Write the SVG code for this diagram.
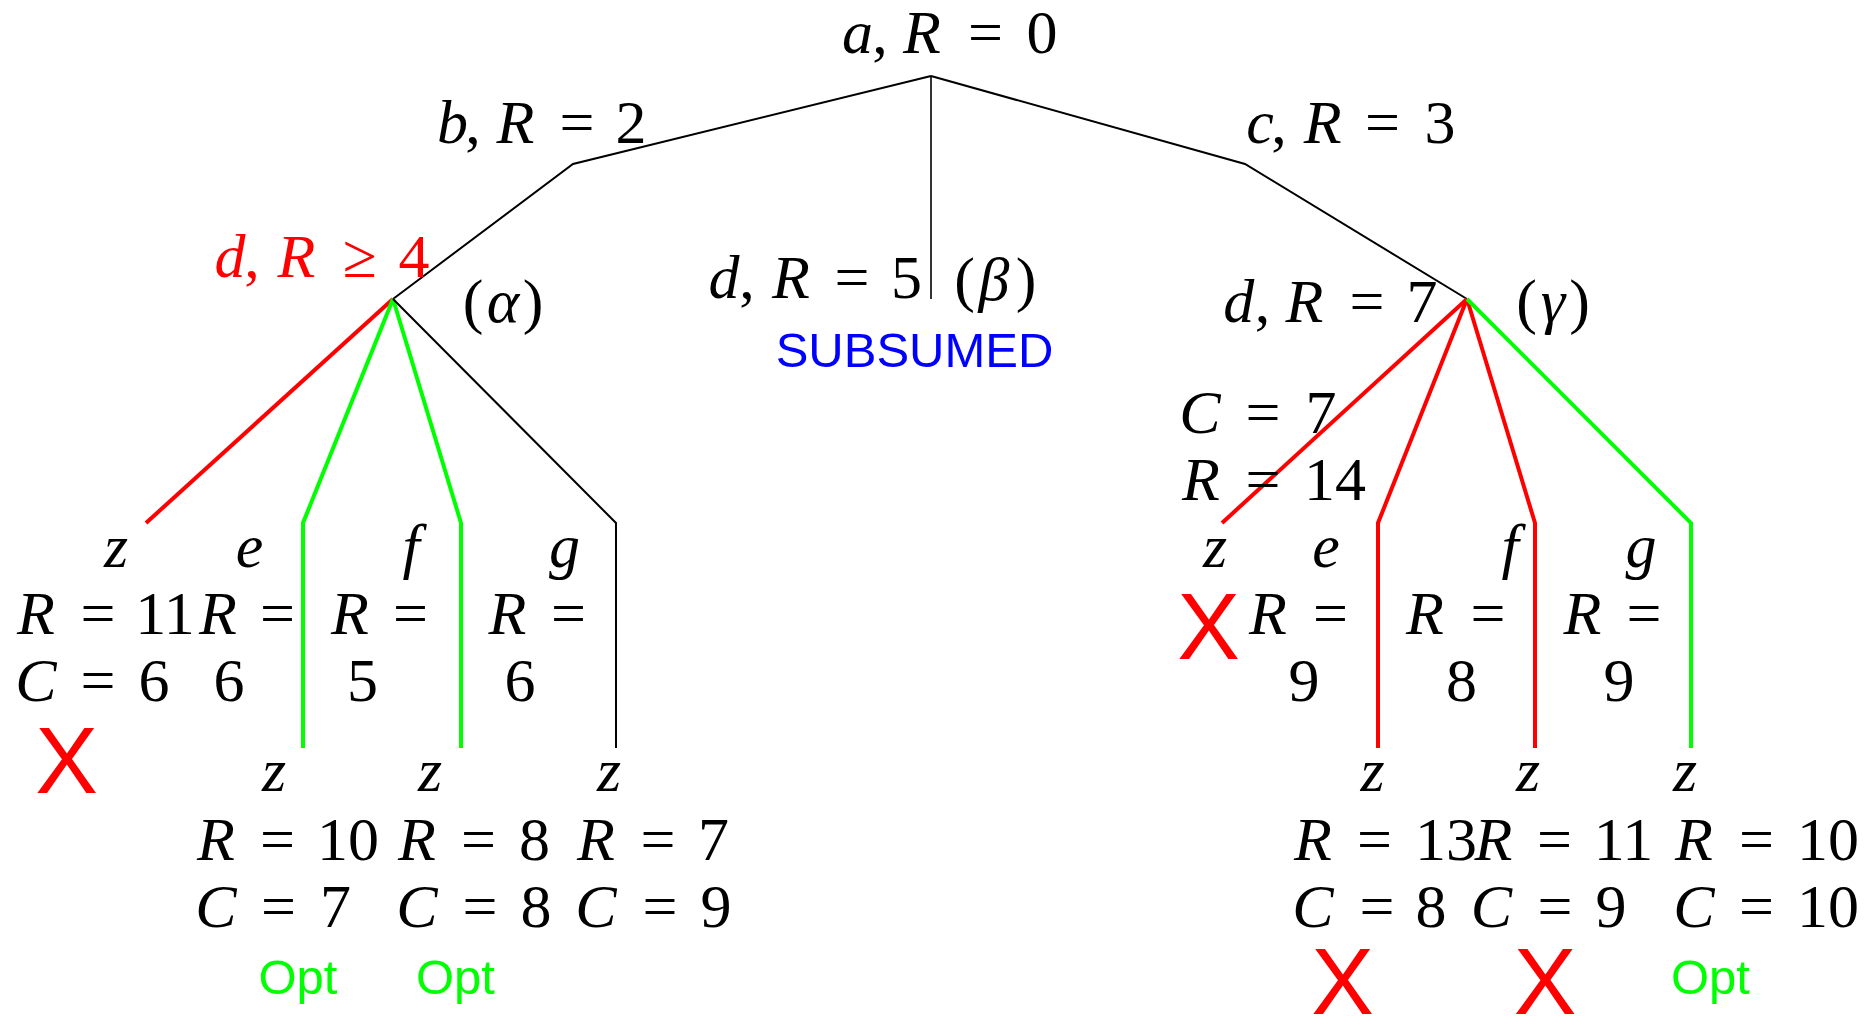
<svg xmlns="http://www.w3.org/2000/svg" width="1876" height="1018" viewBox="0 0 1876 1018">
<style>
.m{font-family:"Liberation Serif","Times New Roman",serif;font-size:62px;fill:#000;text-anchor:middle}
.i{font-style:italic}
.rd{fill:#f00}
.s{font-family:"Liberation Sans",Arial,sans-serif;text-anchor:middle}
.x{font-size:94px;fill:#f00}
.opt{font-size:49px;fill:#0f0}
.sub{font-size:49px;fill:#00f}
.k{stroke:#000;stroke-width:2;fill:none;stroke-linejoin:miter}
.kt{stroke:#000;stroke-width:1.6;fill:none}
.rl{stroke:#f00;stroke-width:4;fill:none}
.gl{stroke:#0f0;stroke-width:4;fill:none}
</style>
<rect width="1876" height="1018" fill="#fff"/>
<g id="connectors">
<polyline class="k" points="931,76 573,164 393,299"/>
<line class="kt" x1="931" y1="76" x2="931" y2="299"/>
<polyline class="k" points="931,76 1245,164 1467,299"/>
<line class="rl" x1="393" y1="299" x2="146" y2="523"/>
<polyline class="gl" points="393,299 303,523 303,748"/>
<polyline class="gl" points="393,299 461,523 461,748"/>
<polyline class="k" points="393,299 616,523 616,748"/>
<line class="rl" x1="1467" y1="299" x2="1222" y2="523"/>
<polyline class="rl" points="1467,299 1378,523 1378,748"/>
<polyline class="rl" points="1467,299 1535,523 1535,748"/>
<polyline class="gl" points="1467,299 1691,523 1691,748"/>
</g>
<g id="node-a">
<text class="m" y="53"><tspan x="857.5" class="i">a</tspan><tspan x="880">,</tspan><tspan x="922" class="i">R</tspan><tspan x="985.6">=</tspan><tspan x="1042">0</tspan></text>
</g>
<g id="node-b">
<text class="m" y="143"><tspan x="452.5" class="i">b</tspan><tspan x="473">,</tspan><tspan x="515.5" class="i">R</tspan><tspan x="577">=</tspan><tspan x="631">2</tspan></text>
</g>
<g id="node-c">
<text class="m" y="143"><tspan x="1260" class="i">c</tspan><tspan x="1279">,</tspan><tspan x="1322.7" class="i">R</tspan><tspan x="1382.6">=</tspan><tspan x="1440">3</tspan></text>
</g>
<g id="node-d-alpha">
<text class="m rd" y="277"><tspan x="230" class="i">d</tspan><tspan x="252">,</tspan><tspan x="296.5" class="i">R</tspan><tspan x="359.5">≥</tspan><tspan x="414">4</tspan></text>
<text class="m" y="322"><tspan x="473">(</tspan><tspan x="503" class="i">α</tspan><tspan x="533">)</tspan></text>
</g>
<g id="node-d-beta">
<text class="m" y="298"><tspan x="724" class="i">d</tspan><tspan x="747">,</tspan><tspan x="791" class="i">R</tspan><tspan x="852">=</tspan><tspan x="906.5">5</tspan></text>
<text class="m" y="300"><tspan x="964.6">(</tspan><tspan x="994" class="i">β</tspan><tspan x="1026">)</tspan></text>
<text class="s sub" x="914.5" y="367">SUBSUMED</text>
</g>
<g id="node-d-gamma">
<text class="m" y="322"><tspan x="1238.7" class="i">d</tspan><tspan x="1262.6">,</tspan><tspan x="1304.5" class="i">R</tspan><tspan x="1367">=</tspan><tspan x="1422">7</tspan></text>
<text class="m" y="322"><tspan x="1526.5">(</tspan><tspan x="1553" class="i">γ</tspan><tspan x="1579.5">)</tspan></text>
</g>
<g id="leaf-alpha-z">
<text class="m i" x="116" y="567">z</text>
<text class="m" y="634"><tspan x="36" class="i">R</tspan><tspan x="98">=</tspan><tspan x="165">11</tspan></text>
<text class="m" y="701"><tspan x="36" class="i">C</tspan><tspan x="98">=</tspan><tspan x="154">6</tspan></text>
<text class="s x" x="66.5" y="793">X</text>
</g>
<g id="node-alpha-e">
<text class="m i" x="249.5" y="567">e</text>
<text class="m" y="634"><tspan x="218" class="i">R</tspan><tspan x="277.5">=</tspan></text>
<text class="m" x="229" y="701">6</text>
</g>
<g id="node-alpha-f">
<text class="m i" x="411" y="567">f</text>
<text class="m" y="634"><tspan x="350" class="i">R</tspan><tspan x="410.5">=</tspan></text>
<text class="m" x="362.5" y="701">5</text>
</g>
<g id="node-alpha-g">
<text class="m i" x="564.5" y="567">g</text>
<text class="m" y="634"><tspan x="507.5" class="i">R</tspan><tspan x="568.5">=</tspan></text>
<text class="m" x="520" y="701">6</text>
</g>
<g id="leaf-alpha-ez">
<text class="m i" x="274" y="791">z</text>
<text class="m" y="860"><tspan x="216" class="i">R</tspan><tspan x="277.5">=</tspan><tspan x="348">10</tspan></text>
<text class="m" y="927"><tspan x="216" class="i">C</tspan><tspan x="278.5">=</tspan><tspan x="335.5">7</tspan></text>
<text class="s opt" x="298" y="994">Opt</text>
</g>
<g id="leaf-alpha-fz">
<text class="m i" x="430" y="791">z</text>
<text class="m" y="860"><tspan x="417" class="i">R</tspan><tspan x="478.5">=</tspan><tspan x="534.5">8</tspan></text>
<text class="m" y="927"><tspan x="417" class="i">C</tspan><tspan x="480">=</tspan><tspan x="536">8</tspan></text>
<text class="s opt" x="455.5" y="994">Opt</text>
</g>
<g id="leaf-alpha-gz">
<text class="m i" x="609" y="791">z</text>
<text class="m" y="860"><tspan x="596" class="i">R</tspan><tspan x="658">=</tspan><tspan x="713.5">7</tspan></text>
<text class="m" y="927"><tspan x="596" class="i">C</tspan><tspan x="660">=</tspan><tspan x="716">9</tspan></text>
</g>
<g id="leaf-gamma-z">
<text class="m" y="433"><tspan x="1200" class="i">C</tspan><tspan x="1263">=</tspan><tspan x="1321">7</tspan></text>
<text class="m" y="500"><tspan x="1201" class="i">R</tspan><tspan x="1263">=</tspan><tspan x="1335">14</tspan></text>
<text class="m i" x="1215" y="567">z</text>
<text class="s x" x="1208.5" y="659">X</text>
</g>
<g id="node-gamma-e">
<text class="m i" x="1326" y="567">e</text>
<text class="m" y="634"><tspan x="1268" class="i">R</tspan><tspan x="1330.5">=</tspan></text>
<text class="m" x="1304" y="701">9</text>
</g>
<g id="node-gamma-f">
<text class="m i" x="1510" y="567">f</text>
<text class="m" y="634"><tspan x="1425" class="i">R</tspan><tspan x="1488">=</tspan></text>
<text class="m" x="1461.5" y="701">8</text>
</g>
<g id="node-gamma-g">
<text class="m i" x="1641" y="567">g</text>
<text class="m" y="634"><tspan x="1582.5" class="i">R</tspan><tspan x="1644">=</tspan></text>
<text class="m" x="1619" y="701">9</text>
</g>
<g id="leaf-gamma-ez">
<text class="m i" x="1372.5" y="791">z</text>
<text class="m" y="860"><tspan x="1313" class="i">R</tspan><tspan x="1374.5">=</tspan><tspan x="1446">13</tspan></text>
<text class="m" y="927"><tspan x="1313" class="i">C</tspan><tspan x="1377">=</tspan><tspan x="1431">8</tspan></text>
<text class="s x" x="1342.5" y="1014">X</text>
</g>
<g id="leaf-gamma-fz">
<text class="m i" x="1528" y="791">z</text>
<text class="m" y="860"><tspan x="1493.5" class="i">R</tspan><tspan x="1554.5">=</tspan><tspan x="1623.5">11</tspan></text>
<text class="m" y="927"><tspan x="1491.5" class="i">C</tspan><tspan x="1555">=</tspan><tspan x="1611">9</tspan></text>
<text class="s x" x="1545" y="1014">X</text>
</g>
<g id="leaf-gamma-gz">
<text class="m i" x="1685" y="791">z</text>
<text class="m" y="860"><tspan x="1694" class="i">R</tspan><tspan x="1756.5">=</tspan><tspan x="1828">10</tspan></text>
<text class="m" y="927"><tspan x="1694" class="i">C</tspan><tspan x="1756.5">=</tspan><tspan x="1828">10</tspan></text>
<text class="s opt" x="1710.5" y="994">Opt</text>
</g>
</svg>
